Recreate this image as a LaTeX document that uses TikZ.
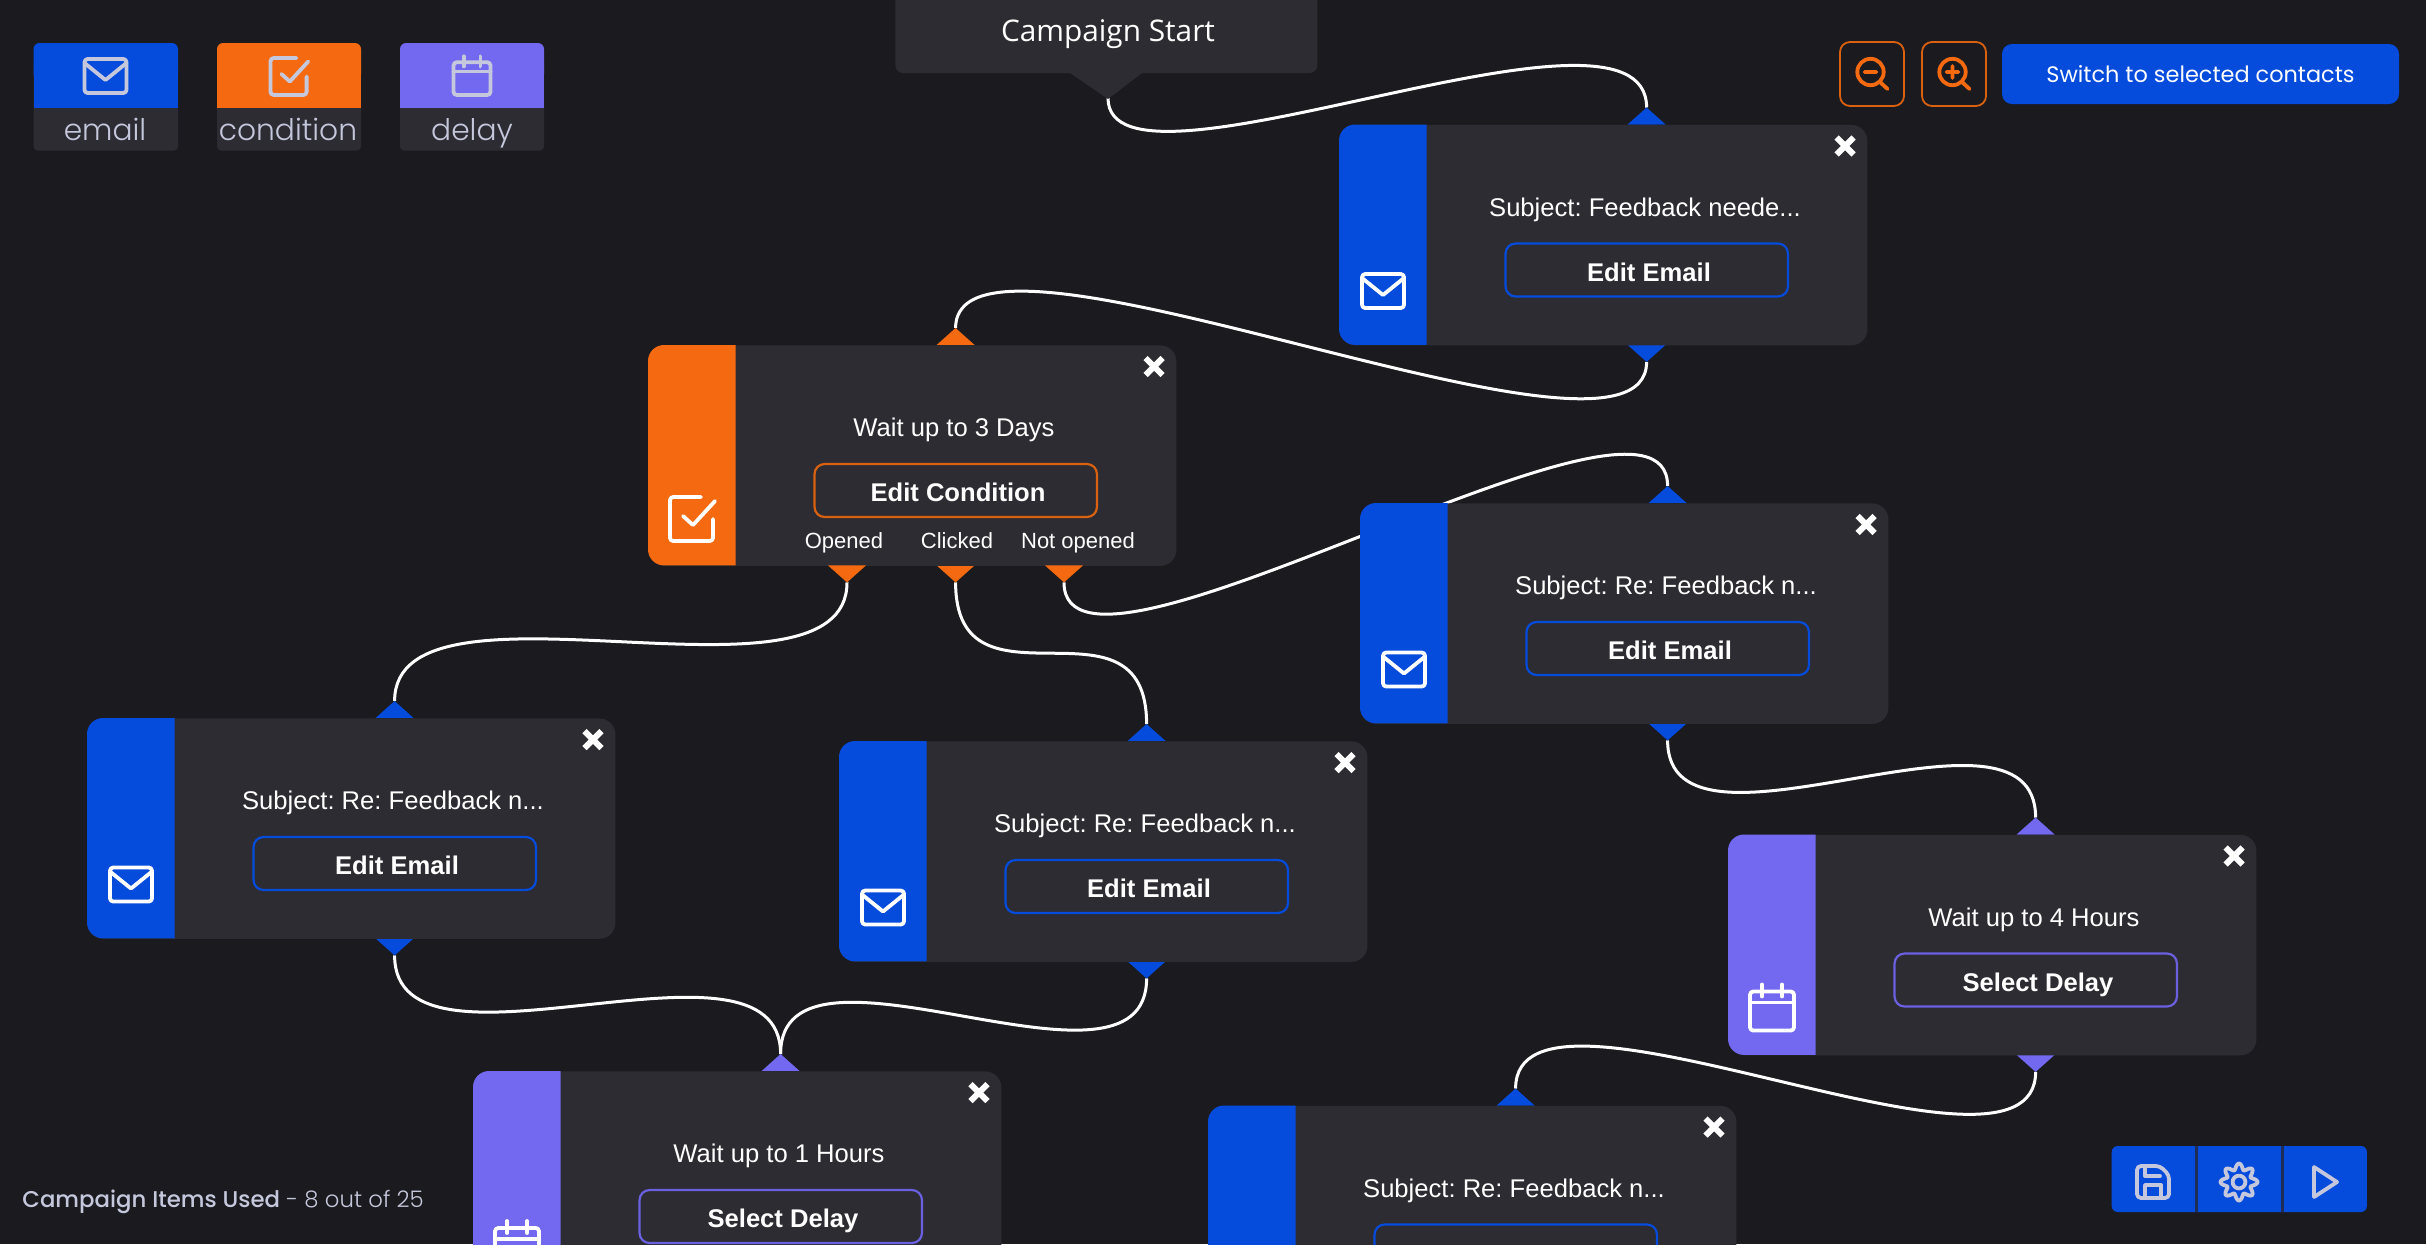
\documentclass[tikz,border=0pt]{standalone}
\usepackage{fontspec}
\setmainfont{Liberation Sans}
\newfontfamily\uifont{Poppins}
\newfontfamily\uilight{Poppins Light}
\newfontfamily\uimedium{Poppins Medium}
\newfontfamily\startfont{Open Sans}
\definecolor{bgc}{HTML}{1A1A1F}
\definecolor{panel}{HTML}{2D2C32}
\definecolor{mailc}{HTML}{054BDC}
\definecolor{condc}{HTML}{F56A10}
\definecolor{delayc}{HTML}{7269F0}
\definecolor{mailb}{HTML}{054BDC}
\definecolor{condb}{HTML}{D9610F}
\definecolor{delayb}{HTML}{6A60E0}
\definecolor{icong}{HTML}{C5C8DC}
\definecolor{divc}{HTML}{1E2D55}
\pgfdeclarelayer{bgl}
\pgfdeclarelayer{edgel}
\pgfsetlayers{bgl,edgel,main}
\tikzset{
  x=0.5pt,y=-0.5pt,
  cardbody/.style={fill=panel,rounded corners=8pt,minimum width=264pt,minimum height=110.2pt,inner sep=0pt,anchor=north west},
  titletext/.style={text=white,font=\fontsize{12.8}{14}\selectfont\frenchspacing,inner sep=0pt,anchor=base},
  btnbox/.style={rounded corners=5pt,line width=1.1pt,minimum width=141.2pt,minimum height=26.5pt,inner sep=0pt,text=white,font=\bfseries\fontsize{12.8}{14}\selectfont\frenchspacing,text height=11pt,text depth=0pt,fill=panel},
  porttext/.style={text=white,font=\fontsize{11}{12}\selectfont\frenchspacing,inner sep=0pt,anchor=base},
  wire/.style={draw=white,line width=1.5pt},
  icon/.style={line width=1.9pt,line cap=round,line join=round,rounded corners=1.6pt},
  toolicon/.style={line width=1.9pt,draw=condc,line cap=round},
  baricon/.style={line width=1.9pt,draw=icong,line cap=round,line join=round},
  legendtext/.style={text=icong,font=\uilight\fontsize{14.85}{16}\selectfont,inner sep=0pt,anchor=base},
}
\newcommand{\iconmail}[1]{%
  \draw[icon,draw=#1] (-21,-17) rectangle (21,17);
  \draw[icon,draw=#1,rounded corners=0pt] (-21,-13) -- (0,4) -- (21,-13);}
\newcommand{\iconcheck}[1]{%
  \draw[icon,draw=#1] (9,-22) -- (-22,-22) -- (-22,22) -- (21,22) -- (21,0);
  \draw[icon,draw=#1,rounded corners=0pt] (-9,-3) -- (1,6) -- (23,-18);}
\newcommand{\iconcal}[1]{%
  \draw[icon,draw=#1] (-22,-17) rectangle (22,22);
  \draw[icon,draw=#1,rounded corners=0pt] (-22,-6) -- (22,-6);
  \draw[icon,draw=#1,rounded corners=0pt] (-10,-24) -- (-10,-12) (10,-24) -- (10,-12);}
% name, x, y, colour, border colour, title, button, icon macro, icon dy
\newcommand{\flowcard}[9]{%
  \begin{scope}[shift={(#2,#3)}]
    \fill[#4] (288.6,0) -- (307.6,-17) -- (326.6,0) -- cycle;
    \fill[#4] (288.6,220.4) -- (307.6,237.4) -- (326.6,220.4) -- cycle;
    \coordinate (#1t) at (307.6,-17);
    \coordinate (#1b) at (307.6,237.4);
    \node[cardbody] (#1) at (0,0) {};
    \fill[#4] (87.5,0) -- (16,0) arc[start angle=90,end angle=180,radius=8pt] -- (0,204.4) arc[start angle=180,end angle=270,radius=8pt] -- (87.5,220.4) -- cycle;
    \node[titletext] (#1title) at (306,91.5) {#6};
    \node[btnbox,draw=#5] (#1btn) at (307.75,145.5) {\hspace*{2.25pt}#7};
    \draw[white,line width=3pt] (497.5,13) -- (514.5,30) (514.5,13) -- (497.5,30);
    \begin{scope}[shift={(44,#9)}]#8{white}\end{scope}
  \end{scope}}
\begin{document}
\begin{tikzpicture}
\path[use as bounding box] (0,0) rectangle (2426,1244);
\begin{pgfonlayer}{bgl}
  \fill[bgc] (0,0) rectangle (2426,1244);
\end{pgfonlayer}

% legend
\fill[panel,rounded corners=2pt] (33.5,60) rectangle (178,150.5);
\fill[mailc,rounded corners=3pt] (33.5,43) rectangle (178,80);
\fill[mailc] (33.5,70) rectangle (178,107.5);
\begin{scope}[shift={(105.5,76)}]\iconmail{icong}\end{scope}
\node[legendtext] (lgmail) at (105,140) {email};
\fill[panel,rounded corners=2pt] (217,60) rectangle (361,150.5);
\fill[condc,rounded corners=3pt] (217,43) rectangle (361,80);
\fill[condc] (217,70) rectangle (361,107.5);
\begin{scope}[shift={(289,76.5)},scale=.84]\iconcheck{icong}\end{scope}
\node[legendtext] (lgcond) at (288,140) {condition};
\fill[panel,rounded corners=2pt] (400,60) rectangle (544,150.5);
\fill[delayc,rounded corners=3pt] (400,43) rectangle (544,80);
\fill[delayc] (400,70) rectangle (544,107.5);
\begin{scope}[shift={(472,76.5)},scale=.84]\iconcal{icong}\end{scope}
\node[legendtext] (lgdelay) at (472,140) {delay};

% campaign start
\fill[panel] (1070,73) -- (1108,99) -- (1142,73) -- cycle;
\node[fill=panel,rounded corners=4pt,minimum width=211pt,minimum height=50pt,inner sep=0pt,anchor=south west,text=white] (start) at (895,73.5) {};
\node[text=white,font=\startfont\fontsize{14.9}{16}\selectfont,inner sep=0pt,anchor=base] (starttext) at (1108,41) {Campaign Start};
\coordinate (startp) at (1108,98);

% tools
\node[draw=condb,line width=.9pt,rounded corners=5pt,minimum width=32pt,minimum height=32pt,inner sep=0pt] (zoomout) at (1872,74) {};
\node[draw=condb,line width=.9pt,rounded corners=5pt,minimum width=32pt,minimum height=32pt,inner sep=0pt] (zoomin) at (1954,74) {};
\draw[toolicon] (1870.5,72) circle[radius=6.6pt] (1880,82) -- (1887.5,89) (1864.5,72) -- (1876.5,72);
\draw[toolicon] (1952.5,72) circle[radius=6.6pt] (1962,82) -- (1969.5,89) (1946.5,72) -- (1958.5,72) (1952.5,66) -- (1952.5,78);
\node[fill=mailc,rounded corners=5pt,minimum width=198.5pt,minimum height=30pt,inner sep=0pt,text=white,font=\uifont\fontsize{11.2}{13}\selectfont] (switch) at (2200.5,74) {Switch to selected contacts};

% cards
\flowcard{cA}{1339}{124.5}{mailc}{mailb}{Subject: Feedback neede...}{Edit Email}{\iconmail}{166.5}
\flowcard{cB}{648}{345}{condc}{condb}{Wait up to 3 Days}{Edit Condition}{\iconcheck}{174}
\flowcard{cC}{1360}{503}{mailc}{mailb}{Subject: Re: Feedback n...}{Edit Email}{\iconmail}{166.5}
\flowcard{cD}{87}{718}{mailc}{mailb}{Subject: Re: Feedback n...}{Edit Email}{\iconmail}{166.5}
\flowcard{cE}{839}{741}{mailc}{mailb}{Subject: Re: Feedback n...}{Edit Email}{\iconmail}{166.5}
\flowcard{cF}{1728}{834.5}{delayc}{delayb}{Wait up to 4 Hours}{Select Delay}{\iconcal}{174}
\flowcard{cG}{473}{1071}{delayc}{delayb}{Wait up to 1 Hours}{Select Delay}{\iconcal}{174}
\flowcard{cH}{1208}{1105.5}{mailc}{mailb}{Subject: Re: Feedback n...}{}{\iconmail}{166.5}

% condition extra ports
\fill[condc] (828,565.4) -- (847,582.4) -- (866,565.4) -- cycle;
\fill[condc] (1045,565.4) -- (1064,582.4) -- (1083,565.4) -- cycle;
\coordinate (cBl) at (847,582.4);
\coordinate (cBr) at (1064,582.4);
\node[porttext] (lopen) at (844,548) {Opened};
\node[porttext] (lclick) at (957,548) {Clicked};
\node[porttext] (lnot) at (1078,548) {Not opened};

% connectors
\begin{pgfonlayer}{edgel}
  \draw[wire] (startp) .. controls +(0,118) and +(0,-135) .. (cAt);
  \draw[wire] (cAb) .. controls +(0,140) and +(0,-140) .. (cBt);
  \draw[wire] (cBl) .. controls +(0,140) and +(0,-140) .. (cDt);
  \draw[wire] (cBb) .. controls +(0,140) and +(0,-140) .. (cEt);
  \draw[wire] (cBr) .. controls +(0,140) and +(0,-140) .. (cCt);
  \draw[wire] (cCb) .. controls +(0,140) and +(0,-140) .. (cFt);
  \draw[wire] (cFb) .. controls +(0,140) and +(0,-140) .. (cHt);
  \draw[wire] (cDb) .. controls +(0,140) and +(0,-140) .. (cGt);
  \draw[wire] (cEb) .. controls +(0,140) and +(0,-140) .. (cGt);
\end{pgfonlayer}

% footer
\node[anchor=base west,inner sep=0pt,text=icong,font=\fontsize{11.4}{12}\selectfont] (items) at (22,1207) {{\uimedium Campaign Items Used} {\uilight - 8 out of 25}};

% bottom toolbar
\node[fill=mailc,rounded corners=3pt,minimum width=127.6pt,minimum height=33pt,inner sep=0pt] (bar) at (2239.3,1179) {};
\fill[divc] (2194.5,1146) rectangle (2197.5,1212);
\fill[divc] (2280.5,1146) rectangle (2283.5,1212);
\begin{scope}[shift={(2153,1182)}]
  \draw[baricon,rounded corners=2pt] (-16,-16) -- (7,-16) -- (16,-7) -- (16,16) -- (-16,16) -- cycle;
  \draw[baricon] (-8,-15) -- (-8,-6) -- (7,-6) (-8,15) -- (-8,3) -- (8,3) -- (8,15);
\end{scope}
\begin{scope}[shift={(2239,1182)}]
  \draw[baricon] (0,0) circle[radius=3.2pt];
  \draw[baricon] plot[domain=0:358,samples=120,smooth] ({(15.5+3*cos(8*\x))*cos(\x)},{(15.5+3*cos(8*\x))*sin(\x)}) -- cycle;
\end{scope}
\draw[baricon] (2314,1167) -- (2337,1182) -- (2314,1197) -- cycle;
\end{tikzpicture}
\end{document}
